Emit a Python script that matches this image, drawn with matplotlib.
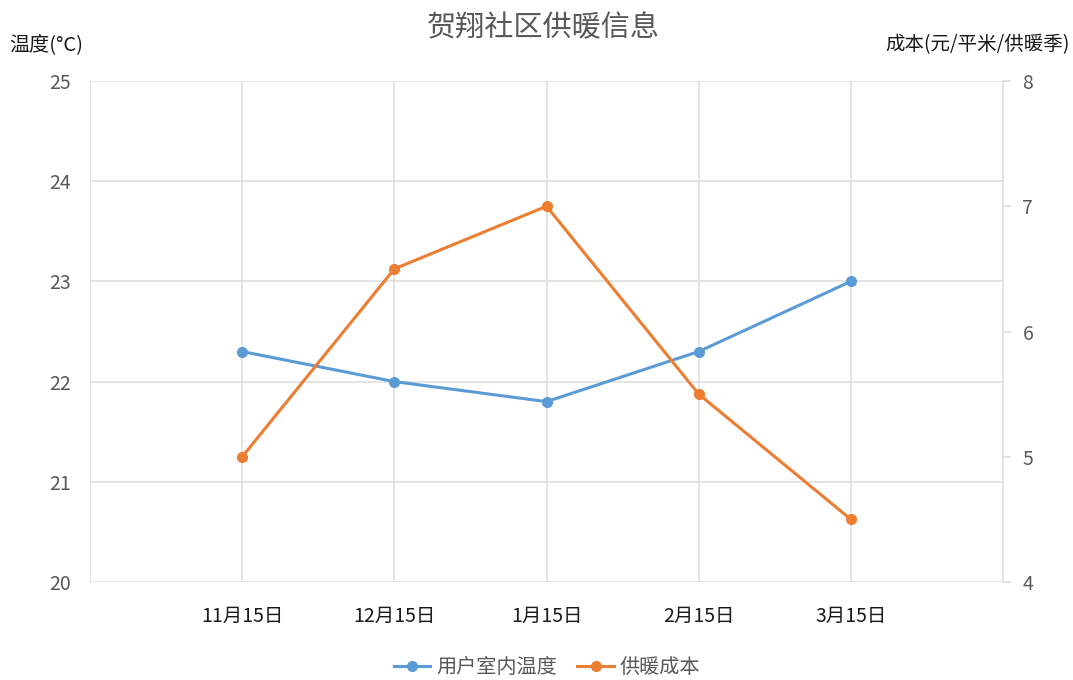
import matplotlib
matplotlib.use("Agg")
import matplotlib.pyplot as plt
from matplotlib.lines import Line2D

plt.rcParams['font.family'] = ['Noto Sans CJK SC', 'DejaVu Sans']

# 供暖季各月数据
months = ["11月15日", "12月15日", "1月15日", "2月15日", "3月15日"]
temp = [22.3, 22.0, 21.8, 22.3, 23.0]      # 用户室内温度 (°C)
cost = [5.0, 6.5, 7.0, 5.5, 4.5]           # 供暖成本 (元/平米/供暖季)
temp_ticks = [20, 21, 22, 23, 24, 25]
cost_ticks = [4, 5, 6, 7, 8]

blue = "#5B9BD5"
orange = "#ED7D31"
grid_c = "#DDDDDD"
txt_c = "#595959"

fig = plt.figure(figsize=(10.73, 6.80), dpi=100)
ax = fig.add_axes([0.0839, 0.1441, 0.8509, 0.7368])
ax2 = ax.twinx()

x = list(range(1, len(months) + 1))
ax.plot(x, temp, color=blue, lw=2.2, marker='o', ms=7, zorder=3)
ax2.plot(x, cost, color=orange, lw=2.2, marker='o', ms=7, zorder=3)

ax.set_xlim(0, 6)
ax.set_ylim(20, 25)
ax2.set_ylim(4, 8)
ax.set_yticks(temp_ticks)
ax2.set_yticks(cost_ticks)
ax.set_xticks(x)
ax.set_xticklabels(months, fontsize=14, color="#1a1a1a", fontweight='medium')

# 网格线
for t in temp_ticks:
    ax.axhline(t, color=grid_c, lw=1.1, zorder=0)
for xv in [0] + x:
    ax.axvline(xv, color=grid_c, lw=1.1, zorder=0)

for a in (ax, ax2):
    for s in a.spines.values():
        s.set_visible(False)
ax2.spines['right'].set_visible(True)
ax2.spines['right'].set_color(grid_c)
ax2.spines['right'].set_linewidth(1.1)

ax.tick_params(axis='y', length=0, pad=14, labelsize=14, labelcolor=txt_c)
ax.tick_params(axis='x', length=0, pad=17)
ax2.tick_params(axis='y', length=6, width=1.1, color=grid_c, pad=8,
                labelsize=14, labelcolor=txt_c)

fig.text(0.506, 0.958, "贺翔社区供暖信息", ha='center', va='center',
         fontsize=21, color=txt_c)
fig.text(0.009, 0.934, "温度(°C)", ha='left', va='center', fontsize=14.5,
         color="#1a1a1a")
fig.text(0.997, 0.934, "成本(元/平米/供暖季)", ha='right', va='center',
         fontsize=14, color="#1a1a1a")

handles = [
    Line2D([0], [0], color=blue, lw=2.2, marker='o', ms=7),
    Line2D([0], [0], color=orange, lw=2.2, marker='o', ms=7),
]
fig.legend(handles, ["用户室内温度", "供暖成本"], loc='center',
           bbox_to_anchor=(0.51, 0.018), ncol=2, frameon=False,
           fontsize=14.5, labelcolor=txt_c, handlelength=1.8,
           columnspacing=1.0, handletextpad=0.3)

fig.savefig("out.png", dpi=100, facecolor='white')
